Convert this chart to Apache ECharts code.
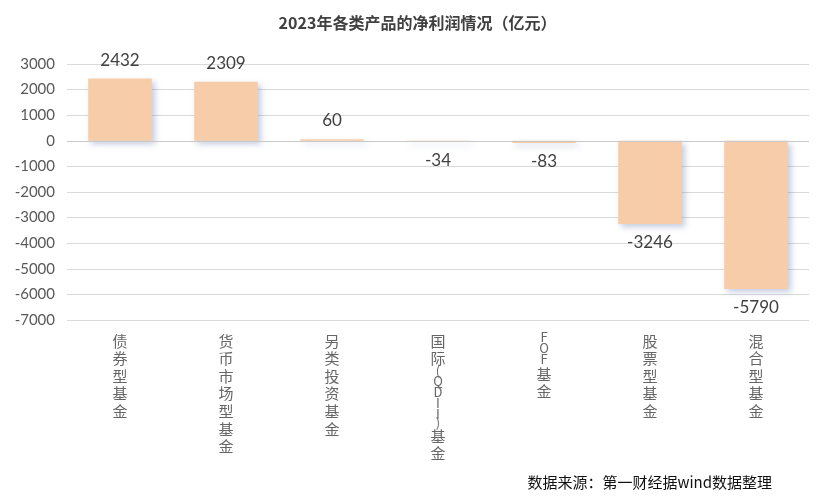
<!DOCTYPE html>
<html><head><meta charset="utf-8">
<script src="https://cdn.jsdelivr.net/npm/echarts@6/dist/echarts.min.js"></script>
<style>html,body{margin:0;padding:0;background:#fff}#c{width:835px;height:502px}</style>
</head><body><div id="c"></div>
<script>
const categories = ['债券型基金','货币市场型基金','另类投资基金','国际(QDII)基金','FOF基金','股票型基金','混合型基金'];
const values = [2432, 2309, 60, -34, -83, -3246, -5790];
const titleText = '2023年各类产品的净利润情况（亿元）';
const sourceText = '数据来源：第一财经据wind数据整理';

function vert(s){
  return s.split('').map(ch=>{
    if(/[()]/.test(ch)) return '{p|'+ch+'}';
    if(/[A-Za-z]/.test(ch)) return '{l|'+ch+'}';
    return '{c|'+ch+'}';
  }).join('\n');
}
const chart = echarts.init(document.getElementById('c'));
chart.setOption({
  animation:false,
  title:[{text:titleText,left:'center',top:10,textStyle:{fontSize:16,fontWeight:'bold',color:'#404040',fontFamily:'Noto Sans CJK SC'}},
         {text:sourceText,right:58,top:470,textStyle:{fontSize:15,fontWeight:'normal',color:'#111',fontFamily:'Noto Sans CJK SC'}}],
  grid:{left:67,right:26,top:64,bottom:182},
  xAxis:{type:'category',data:categories,axisLine:{show:false},axisTick:{show:false},
    axisLabel:{interval:0,margin:12,verticalAlign:'top',formatter:v=>vert(v),
      rich:{c:{fontSize:15,lineHeight:17.6,color:'#666',fontFamily:'Noto Sans CJK SC'},
            l:{fontSize:13,lineHeight:11,color:'#666',fontFamily:'Noto Sans CJK SC'},
            p:{fontSize:13,lineHeight:8,color:'#666',fontFamily:'Noto Sans CJK SC'}}}},
  yAxis:{type:'value',min:-7000,max:3000,interval:1000,axisLine:{show:false},axisTick:{show:false},
    splitLine:{lineStyle:{color:'#d9d9d9',width:1}},
    axisLabel:{fontSize:15,color:'#595959',margin:12,fontFamily:'Lato',formatter:v=>String(v)}},
  series:[{type:'bar',barWidth:'60%',
    data:values.map(v=>v<0?{value:v,label:{position:'bottom'}}:v),
    itemStyle:{color:'#F7CDA9',shadowColor:'rgba(90,110,160,0.35)',shadowBlur:6,shadowOffsetX:3,shadowOffsetY:3},
    label:{show:true,position:'top',distance:10,fontSize:17,color:'#404040',fontFamily:'Lato',
      formatter:p=>String(p.value)},
    markLine:{silent:true,symbol:'none',label:{show:false},lineStyle:{color:'#c8c8c8',type:'solid',width:1},data:[{yAxis:0}]}
  }]
});
</script></body></html>
